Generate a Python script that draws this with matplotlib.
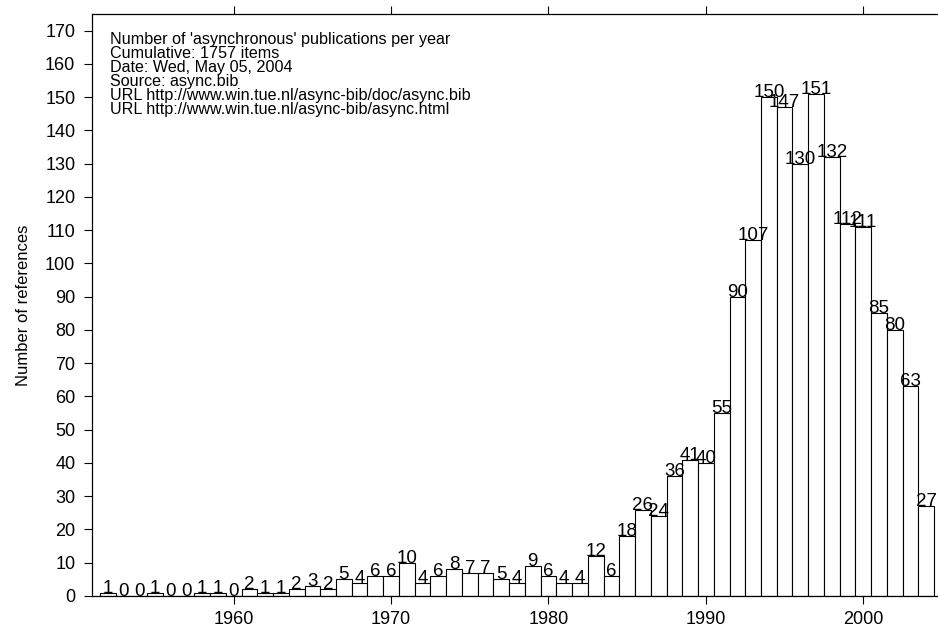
import matplotlib
matplotlib.use('Agg')
import matplotlib.pyplot as plt

plt.rcParams['font.family'] = ['Liberation Sans', 'DejaVu Sans']

# publications per year, 1952 - 2004
years = list(range(1952, 2005))
counts = [1, 0, 0, 1, 0, 0, 1, 1, 0, 2,
          1, 1, 2, 3, 2, 5, 4, 6, 6, 10,
          4, 6, 8, 7, 7, 5, 4, 9, 6, 4,
          4, 12, 6, 18, 26, 24, 36, 41, 40, 55,
          90, 107, 150, 147, 130, 151, 132, 112, 111, 85,
          80, 63, 27]

info_lines = [
    "Number of 'asynchronous' publications per year",
    "Cumulative: 1757 items",
    "Date: Wed, May 05, 2004",
    "Source: async.bib",
    "URL http://www.win.tue.nl/async-bib/doc/async.bib",
    "URL http://www.win.tue.nl/async-bib/async.html",
]
xticks = [1960, 1970, 1980, 1990, 2000]
yticks = list(range(0, 171, 10))

W, H = 938, 630
fig = plt.figure(figsize=(W / 100, H / 100), dpi=100)
ax = fig.add_axes([92 / W, 34 / H, (942 - 92) / W, (596 - 14) / H])

ax.bar(years, counts, width=1.0, color='white', edgecolor='black', linewidth=0.8)

# value labels on top of each bar
for y, c in zip(years, counts):
    ax.text(y, c, str(c), ha='center', va='baseline', fontsize=13.5)

ax.set_xlim(1951, 2005)
ax.set_ylim(0, 175)
ax.set_xticks(xticks)
ax.set_yticks(yticks)
ax.tick_params(axis='both', direction='out', length=6, width=0.8, labelsize=13)
ax.tick_params(axis='x', top=True, bottom=True, pad=5)
ax.tick_params(axis='y', left=True, right=False, pad=6)
for s in ax.spines.values():
    s.set_linewidth(0.9)
ax.set_ylabel('Number of references', fontsize=12, labelpad=10)

# info block in the upper left corner
for i, line in enumerate(info_lines):
    fig.text(110 / W, 1 - (32 + 14 * i) / H, line, ha='left', va='top', fontsize=11.6)

fig.savefig('out.png', dpi=100)
